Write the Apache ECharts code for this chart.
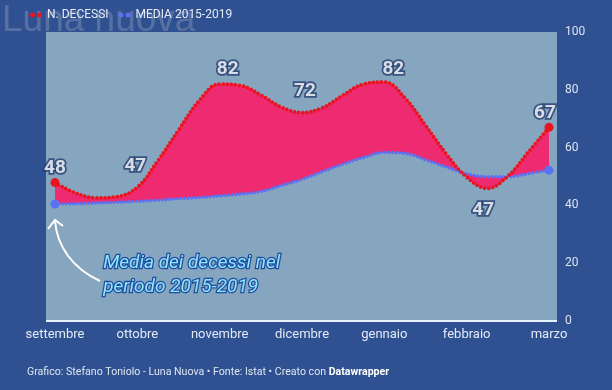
<!DOCTYPE html>
<html>
<head>
<meta charset="utf-8">
<script src="https://cdn.jsdelivr.net/npm/echarts@6/dist/echarts.min.js"></script>
<style>
html,body{margin:0;padding:0;background:#2f5091;}
#chart{width:612px;height:390px;}
</style>
</head>
<body>
<div id="chart"></div>
<script>
// ---- data (roughly quarter-month steps) ----
const categories = ['1 set','8 set','16 set','23 set','1 ott','8 ott','16 ott','23 ott','1 nov','8 nov','16 nov','23 nov','1 dic','8 dic','16 dic','23 dic','1 gen','8 gen','16 gen','23 gen','1 feb','8 feb','16 feb','23 feb','1 mar'];
const monthLabels = ['settembre','ottobre','novembre','dicembre','gennaio','febbraio','marzo'];
const decessi = [47.9,44.3,42.6,43.0,46.3,55.5,66.0,76.2,82.0,81.5,78.2,74.0,72.1,73.8,78.2,82.0,82.7,77.2,67.7,57.9,49.8,45.9,50.1,58.5,67.0];
const media = [40.5,40.6,40.8,41.1,41.4,41.8,42.3,42.7,43.3,43.9,44.8,46.9,49.0,51.7,54.3,56.6,58.3,58.0,55.8,53.3,51.0,49.9,49.9,51.0,52.2];
const labelIndex = [0,4,8,12,16,21,24];
const labelTexts = ['48','47','82','72','82','47','67'];
const yTicks = [0,20,40,60,80,100];

// ---- styling ----
const LABEL_OFFSETS = [[0,-14],[-2,-21],[8,-15],[3,-21],[9,-13],[-4,22],[-4,-14]];
const RED = '#ea1420', BLUE = '#5874f4', PINK = '#ee2a70';
const last = decessi.length - 1;
const diff = decessi.map((v, i) => +(v - media[i]).toFixed(2));

const chart = echarts.init(document.getElementById('chart'));
const dots = (c, w) => ({color: c, width: w, type: [0, w + 0.3], cap: 'round'});
const endSize = (v, p) => (p.dataIndex === 0 || p.dataIndex === last) ? 9 : 0;

chart.setOption({
  backgroundColor: '#2f5091',
  animation: false,
  textStyle: {fontFamily: 'Roboto'},
  legend: {
    left: 25, top: 4, itemWidth: 12, itemHeight: 5, itemGap: 10,
    icon: 'path://M0,2.5a2.5,2.5 0 1,0 5,0a2.5,2.5 0 1,0 -5,0M7,2.5a2.5,2.5 0 1,0 5,0a2.5,2.5 0 1,0 -5,0',
    textStyle: {color: '#e4ebf5', fontSize: 12, padding: [0,0,0,0]},
    data: ['N. DECESSI', 'MEDIA 2015-2019']
  },
  grid: {left: 55, right: 63, top: 32, bottom: 69},
  xAxis: {
    type: 'category', data: categories, boundaryGap: false,
    axisLine: {show: false}, axisTick: {show: false}, splitLine: {show: false},
    axisLabel: {interval: 3, margin: 7, fontSize: 13, color: '#e2eaf6',
      formatter: (v, i) => monthLabels[Math.round(i / 4)] || ''}
  },
  yAxis: {
    type: 'value', position: 'right', min: 0, max: 100, interval: 20,
    axisLine: {show: false}, axisTick: {show: false}, splitLine: {show: false},
    axisLabel: {margin: 16, fontSize: 12, color: '#dbe5f3',
      formatter: (v) => yTicks.includes(v) ? String(v) : ''}
  },
  graphic: [
    {type: 'rect', z: 0, silent: true, shape: {x: 46, y: 32, width: 511, height: 289}, style: {fill: '#86a6bf'}},
    {type: 'text', z: 1, silent: true, left: 2, top: 2, style: {text: 'Luna nuova', font: '37px "Liberation Sans"', fill: 'rgba(185,190,200,0.30)'}},
    {type: 'line', z: 5, silent: true, shape: {x1: 46, y1: 321, x2: 557, y2: 321}, style: {stroke: '#e8f1ff', lineWidth: 2}},
    {type: 'bezierCurve', z: 6, silent: true, shape: {x1: 100, y1: 281, cpx1: 72, cpy1: 268, cpx2: 57, cpy2: 246, x2: 55, y2: 221}, style: {stroke: '#ffffff', lineWidth: 2, fill: null}},
    {type: 'polyline', z: 6, silent: true, shape: {points: [[48, 229], [55, 220], [63, 226]]}, style: {stroke: '#ffffff', lineWidth: 2, fill: null}},
    {type: 'text', z: 6, silent: true, left: 102, top: 251, style: {
      text: 'Media dei decessi nel\nperiodo 2015-2019', font: 'italic 19px Roboto', lineHeight: 24,
      fill: '#8fe4ff', stroke: '#1f4d9e', lineWidth: 2.5}},
    {type: 'text', z: 6, silent: true, left: 27, top: 367, style: {
      rich: {n: {fontSize: 10.6, fontFamily: 'Roboto', fill: '#dfe6f1'},
             b: {fontSize: 10.6, fontFamily: 'Roboto', fontWeight: 'bold', fill: '#ffffff'}},
      text: '{n|Grafico: Stefano Toniolo - Luna Nuova \u2022 Fonte: Istat \u2022 Creato con }{b|Datawrapper}'}}
  ],
  series: [
    {name: 'base', type: 'line', data: media, stack: 'g', stackStrategy: 'all', smooth: 0.4,
      symbol: 'none', lineStyle: {opacity: 0}, silent: true, z: 2},
    {name: 'diff', type: 'line', data: diff, stack: 'g', stackStrategy: 'all', smooth: 0.4,
      symbol: 'none', lineStyle: {opacity: 0}, areaStyle: {color: PINK, opacity: 1}, silent: true, z: 2},
    {name: 'MEDIA 2015-2019', type: 'line', data: media, smooth: 0.4, z: 3,
      symbol: 'circle', symbolSize: endSize, showAllSymbol: true,
      itemStyle: {color: BLUE}, lineStyle: dots(BLUE, 3.4)},
    {name: 'N. DECESSI', type: 'line', data: decessi, smooth: 0.4, z: 4,
      symbol: 'circle', symbolSize: endSize, showAllSymbol: true,
      itemStyle: {color: RED}, lineStyle: dots(RED, 3.8)},
    {name: 'labels', type: 'scatter', z: 7, symbolSize: 0, silent: true,
      data: labelIndex.map((idx, j) => ({
        value: [idx, decessi[idx]],
        label: {offset: LABEL_OFFSETS[j], formatter: labelTexts[j]}
      })),
      label: {show: true, position: 'inside', fontSize: 19, fontWeight: 'bold', color: '#ffffff',
        textBorderColor: '#253f72', textBorderWidth: 3.5}}
  ]
});
</script>
</body>
</html>
